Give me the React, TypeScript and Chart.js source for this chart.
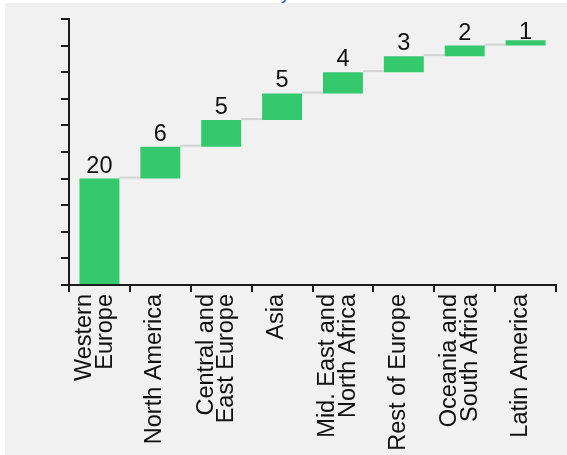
import React, { useEffect, useRef } from "react";
import { Chart, registerables } from "chart.js";

Chart.register(...registerables);

// Regions (multi-line labels) and their share contributions
const regions: string[][] = [
  ["Western", "Europe"],
  ["North America"],
  ["Central and", "East Europe"],
  ["Asia"],
  ["Mid. East and", "North Africa"],
  ["Rest of Europe"],
  ["Oceania and", "South Africa"],
  ["Latin America"],
];
const shares = [20, 6, 5, 5, 4, 3, 2, 1];

// Value axis range (tick marks only, no labels)
const yMin = 0;
const yMax = 50;
const yStep = 5;

const FONT = "'Liberation Sans', Arial, Helvetica, sans-serif";
const FONT_SIZE = 23.5;
const BAR_COLOR = "#35c96e";
const AXIS_COLOR = "#1c1c1c";

// Running totals give each floating bar its [start, end]
const ends: number[] = [];
shares.reduce((acc, v) => {
  ends.push(acc + v);
  return acc + v;
}, 0);
const ranges = shares.map((v, i) => [ends[i] - v, ends[i]]);

// Rotated labels: Chart.js puts the first line on the tick, so single-line
// names get an empty leading line with a short line height to centre them.
const LINE_GAP = 20.7;
const SINGLE_SHIFT = 9.5;
const axisLabels = regions.map((r) => (r.length === 1 ? ["", r[0]] : r));

const waterfallPlugin = {
  id: "waterfallDecor",
  beforeDatasetsDraw(chart: any) {
    const meta = chart.getDatasetMeta(0);
    const yScale = chart.scales.y;
    const ctx = chart.ctx;
    ctx.save();
    ctx.strokeStyle = "#d3d3d3";
    ctx.lineWidth = 2;
    for (let i = 0; i < meta.data.length - 1; i++) {
      const a = meta.data[i].getProps(["x", "width"], true);
      const b = meta.data[i + 1].getProps(["x", "width"], true);
      const level = yScale.getPixelForValue(ends[i]) - 1;
      ctx.beginPath();
      ctx.moveTo(a.x + a.width / 2, level);
      ctx.lineTo(b.x - b.width / 2, level);
      ctx.stroke();
    }
    ctx.restore();
  },
  afterDatasetsDraw(chart: any) {
    const meta = chart.getDatasetMeta(0);
    const ctx = chart.ctx;
    const top = chart.chartArea.top;
    ctx.save();
    ctx.font = `${FONT_SIZE}px ${FONT}`;
    ctx.fillStyle = "#111111";
    ctx.textAlign = "center";
    ctx.textBaseline = "alphabetic";
    meta.data.forEach((bar: any, i: number) => {
      const p = bar.getProps(["x", "y"], true);
      const baseline = Math.max(p.y - 6, top + 19.5);
      ctx.fillText(String(shares[i]), p.x, baseline);
    });
    ctx.restore();
  },
};

export default function App() {
  const canvasRef = useRef<HTMLCanvasElement | null>(null);

  useEffect(() => {
    if (!canvasRef.current) return;
    const chart = new Chart(canvasRef.current, {
      type: "bar",
      data: {
        labels: axisLabels as any,
        datasets: [
          {
            data: ranges as any,
            backgroundColor: BAR_COLOR,
            borderWidth: 0,
            categoryPercentage: 0.8,
            barPercentage: 0.82,
          },
        ],
      },
      options: {
        animation: false,
        responsive: false,
        devicePixelRatio: 1,
        layout: { padding: { top: 19, right: 11, left: 0, bottom: 0 } },
        plugins: {
          legend: { display: false },
          tooltip: { enabled: false },
          title: { display: false },
        },
        scales: {
          x: {
            grid: {
              display: true,
              drawOnChartArea: false,
              drawTicks: true,
              tickLength: 7,
              color: AXIS_COLOR,
              lineWidth: 2,
              offset: true,
            },
            border: { display: true, color: AXIS_COLOR, width: 2 },
            ticks: {
              autoSkip: false,
              maxRotation: 90,
              minRotation: 90,
              padding: 2,
              labelOffset: -15,
              color: "#111111",
              font: (c: any) => ({
                family: FONT,
                size: FONT_SIZE,
                lineHeight:
                  (regions[c.index] && regions[c.index].length === 1 ? SINGLE_SHIFT : LINE_GAP) / FONT_SIZE,
              }),
            },
            afterFit: (s: any) => {
              s.height = 170;
            },
          },
          y: {
            min: yMin,
            max: yMax,
            ticks: { stepSize: yStep, display: false },
            grid: {
              display: true,
              drawOnChartArea: false,
              drawTicks: true,
              tickLength: 8,
              color: AXIS_COLOR,
              lineWidth: 2,
            },
            border: { display: true, color: AXIS_COLOR, width: 2 },
            afterFit: (s: any) => {
              s.width = 69;
            },
          },
        },
      },
      plugins: [waterfallPlugin],
    });
    return () => chart.destroy();
  }, []);

  return (
    <div style={{ position: "fixed", left: 0, top: 0, width: 567, height: 455, background: "#ffffff", overflow: "hidden" }}>
      <div style={{ position: "absolute", left: 5, top: 3, right: 0, bottom: 0, background: "#f1f1f1" }} />
      <div style={{ position: "absolute", left: 0, top: 0, width: 567, height: 3, overflow: "hidden" }}>
        <div
          style={{
            position: "absolute",
            right: 567 - 290,
            top: -16.5,
            whiteSpace: "nowrap",
            fontFamily: FONT,
            fontSize: 18,
            lineHeight: "18px",
            color: "#1f4fc0",
          }}
        >
          Share of activity
        </div>
      </div>
      <canvas ref={canvasRef} width={567} height={455} style={{ position: "absolute", left: 0, top: 0 }} />
    </div>
  );
}
